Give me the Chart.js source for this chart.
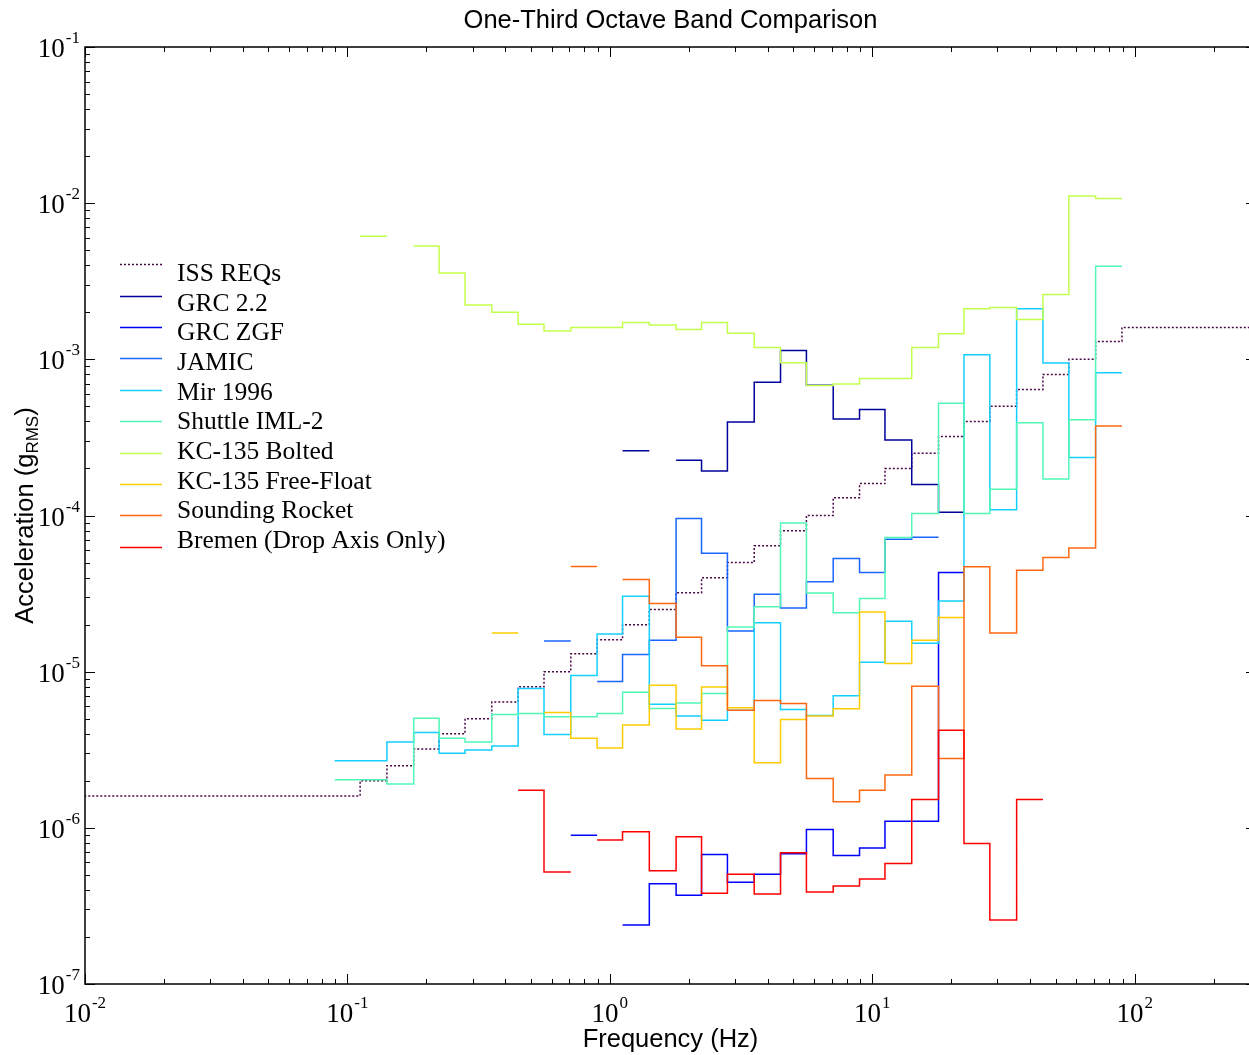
<!DOCTYPE html>
<html>
<head>
<meta charset="utf-8">
<title>One-Third Octave Band Comparison</title>
<script src="https://cdn.jsdelivr.net/npm/chart.js@4.4.1/dist/chart.umd.min.js"></script>
<style>
  html, body { margin: 0; padding: 0; background: #fff; overflow: hidden; }
  #wrap { width: 1249px; height: 1055px; overflow: hidden; }
  canvas { display: block; }
</style>
</head>
<body>
<div id="wrap"><canvas id="octave" width="1262" height="1055"></canvas></div>
<script>
// one-third octave band centres (Hz)
const bandCenters = [
    0.01, 0.0125, 0.016, 0.02, 0.025, 0.0315, 0.04, 0.05, 0.063, 0.08,
    0.1, 0.125, 0.16, 0.2, 0.25, 0.315, 0.4, 0.5, 0.63, 0.8,
    1, 1.25, 1.6, 2, 2.5, 3.15, 4, 5, 6.3, 8,
    10, 12.5, 16, 20, 25, 31.5, 40, 50, 63, 80,
    100, 125, 160, 200, 250, 315
];
const N = null;

// g RMS per band, same order as bandCenters (null = no data)
const issReqs = [
    1.6e-6, 1.6e-6, 1.6e-6, 1.6e-6, 1.6e-6, 1.6e-6, 1.6e-6, 1.6e-6, 1.6e-6, 1.6e-6,
    1.6e-6, 2.0e-6, 2.5e-6, 3.2e-6, 4.0e-6, 5.0e-6, 6.4e-6, 8.0e-6, 1.0e-5, 1.3e-5,
    1.6e-5, 2.0e-5, 2.5e-5, 3.2e-5, 4.0e-5, 5.0e-5, 6.4e-5, 8.0e-5, 1.0e-4, 1.3e-4,
    1.6e-4, 2.0e-4, 2.5e-4, 3.2e-4, 4.0e-4, 5.0e-4, 6.4e-4, 8.0e-4, 1.0e-3, 1.3e-3,
    1.6e-3, 1.6e-3, 1.6e-3, 1.6e-3, 1.6e-3, 1.6e-3
];
const grc22 = [
    N, N, N, N, N, N, N, N, N, N,
    N, N, N, N, N, N, N, N, N, N,
    N, 2.60e-4, N, 2.26e-4, 1.93e-4, 3.97e-4, 7.12e-4, 1.14e-3, 6.82e-4, 4.15e-4,
    4.77e-4, 3.04e-4, 1.58e-4, 1.05e-4, N, N, N, N, N, N,
    N, N, N, N, N, N
];
const grcZgf = [
    N, N, N, N, N, N, N, N, N, N,
    N, N, N, N, N, N, N, N, N, 8.95e-7,
    N, 2.39e-7, 4.38e-7, 3.70e-7, 6.76e-7, 4.48e-7, 5.04e-7, 6.82e-7, 9.77e-7, 6.66e-7,
    7.42e-7, 1.10e-6, 1.10e-6, 4.31e-5, N, N, N, N, N, N,
    N, N, N, N, N, N
];
const jamic = [
    N, N, N, N, N, N, N, N, N, N,
    N, N, N, N, N, N, N, N, 1.57e-5, N,
    8.66e-6, 1.29e-5, 1.59e-5, 9.56e-5, 5.73e-5, 1.82e-5, 3.13e-5, 2.56e-5, 3.76e-5, 5.30e-5,
    4.31e-5, 7.05e-5, 7.26e-5, N, N, N, N, N, N, N,
    N, N, N, N, N, N
];
const mir1996 = [
    N, N, N, N, N, N, N, N, N, N,
    2.69e-6, 2.69e-6, 3.55e-6, 4.08e-6, 3.00e-6, 3.15e-6, 3.34e-6, 7.81e-6, 3.96e-6, 9.46e-6,
    1.74e-5, 3.04e-5, 6.19e-6, 5.21e-6, 4.89e-6, 5.67e-6, 2.06e-5, 5.73e-6, 5.24e-6, 7.00e-6,
    1.15e-5, 2.10e-5, 1.52e-5, 2.83e-5, 1.07e-3, 1.09e-4, 2.11e-3, 9.47e-4, 2.35e-4, 8.22e-4,
    N, N, N, N, N, N
];
const shuttleIml2 = [
    N, N, N, N, N, N, N, N, N, N,
    2.03e-6, 2.03e-6, 1.91e-6, 5.04e-6, 3.74e-6, 3.55e-6, 5.32e-6, 5.40e-6, 5.14e-6, 5.14e-6,
    5.40e-6, 7.39e-6, 5.81e-6, 6.31e-6, 7.25e-6, 1.93e-5, 2.60e-5, 8.96e-5, 3.19e-5, 2.38e-5,
    2.94e-5, 7.23e-5, 1.03e-4, 5.23e-4, 1.03e-4, 1.47e-4, 3.93e-4, 1.71e-4, 4.11e-4, 3.95e-3,
    N, N, N, N, N, N
];
const kcBolted = [
    N, N, N, N, N, N, N, N, N, N,
    N, 6.13e-3, N, 5.31e-3, 3.57e-3, 2.23e-3, 2.00e-3, 1.68e-3, 1.52e-3, 1.60e-3,
    1.60e-3, 1.72e-3, 1.66e-3, 1.55e-3, 1.72e-3, 1.47e-3, 1.19e-3, 9.50e-4, 6.80e-4, 6.95e-4,
    7.54e-4, 7.54e-4, 1.19e-3, 1.46e-3, 2.11e-3, 2.15e-3, 1.80e-3, 2.60e-3, 1.11e-2, 1.07e-2,
    N, N, N, N, N, N
];
const kcFreeFloat = [
    N, N, N, N, N, N, N, N, N, N,
    N, N, N, N, N, N, 1.77e-5, N, 5.48e-6, 3.74e-6,
    3.25e-6, 4.55e-6, 8.20e-6, 4.29e-6, 7.99e-6, 5.87e-6, 2.61e-6, 4.94e-6, 5.20e-6, 5.78e-6,
    2.41e-5, 1.13e-5, 1.59e-5, 2.22e-5, N, N, N, N, N, N,
    N, N, N, N, N, N
];
const soundingRocket = [
    N, N, N, N, N, N, N, N, N, N,
    N, N, N, N, N, N, N, N, N, 4.71e-5,
    N, 3.89e-5, 2.73e-5, 1.66e-5, 1.09e-5, 5.67e-6, 6.54e-6, 6.26e-6, 2.07e-6, 1.47e-6,
    1.74e-6, 2.18e-6, 8.08e-6, 2.78e-6, 4.69e-5, 1.77e-5, 4.46e-5, 5.38e-5, 6.20e-5, 3.74e-4,
    N, N, N, N, N, N
];
const bremen = [
    N, N, N, N, N, N, N, N, N, N,
    N, N, N, N, N, N, N, 1.74e-6, 5.21e-7, N,
    8.35e-7, 9.43e-7, 5.31e-7, 8.76e-7, 3.81e-7, 5.04e-7, 3.77e-7, 6.92e-7, 3.88e-7, 4.24e-7,
    4.70e-7, 5.92e-7, 1.52e-6, 4.22e-6, 7.95e-7, 2.57e-7, 1.52e-6, N, N, N,
    N, N, N, N, N, N
];

const seriesNames = ['ISS REQs', 'GRC 2.2', 'GRC ZGF', 'JAMIC', 'Mir 1996', 'Shuttle IML-2',
    'KC-135 Bolted', 'KC-135 Free-Float', 'Sounding Rocket', 'Bremen (Drop Axis Only)'];
const seriesValues = [issReqs, grc22, grcZgf, jamic, mir1996, shuttleIml2,
    kcBolted, kcFreeFloat, soundingRocket, bremen];
const seriesColors = ['#4a0a4a', '#00009a', '#0000ff', '#1866ff', '#12d0ff', '#52f7b6',
    '#c2ff4c', '#ffcc00', '#ff6812', '#ff0000'];

// tick labels are 10^exp
const xTickExps = [-2, -1, 0, 1, 2];
const yTickExps = [-7, -6, -5, -4, -3, -2, -1];

// band edges: geometric mean between neighbouring centres
const bandLo = [], bandHi = [];
bandCenters.forEach((c, i) => {
    const prev = i > 0 ? Math.sqrt(bandCenters[i - 1] * c) : c / Math.sqrt(bandCenters[1] / c);
    const next = i < bandCenters.length - 1 ? Math.sqrt(c * bandCenters[i + 1])
        : c * Math.sqrt(c / bandCenters[i - 1]);
    bandLo.push(prev);
    bandHi.push(next);
});

// each band value becomes a flat step from its lower to its upper edge
function stepPoints(values) {
    const pts = [];
    values.forEach((v, i) => {
        if (v === null) {
            pts.push({ x: bandCenters[i], y: null });
            return;
        }
        pts.push({ x: bandLo[i], y: v }, { x: bandHi[i], y: v });
    });
    return pts;
}

const SERIF = '"Liberation Serif", "Times New Roman", serif';
const SANS = '"Liberation Sans", Arial, sans-serif';

function drawPower(ctx, exp, left, baseMain, baseSup) {
    ctx.font = '27px ' + SERIF;
    ctx.fillText('10', left, baseMain);
    const w = ctx.measureText('10').width;
    ctx.font = '17px ' + SERIF;
    ctx.fillText(String(exp), left + w + 1, baseSup);
}
function powerWidth(ctx, exp) {
    ctx.font = '27px ' + SERIF;
    const w1 = ctx.measureText('10').width;
    ctx.font = '17px ' + SERIF;
    return w1 + 1 + ctx.measureText(String(exp)).width;
}

function logTicks(lo, hi) {
    const out = [];
    for (let d = Math.floor(Math.log10(lo)); d <= Math.ceil(Math.log10(hi)); d++) {
        for (let m = 1; m <= 9; m++) {
            const v = m * Math.pow(10, d);
            if (v >= lo * 0.999 && v <= hi * 1.001) out.push({ v: v, major: m === 1 });
        }
    }
    return out;
}

const framePlugin = {
    id: 'frame',
    afterDraw(chart) {
        const ctx = chart.ctx;
        const a = chart.chartArea;
        const xs = chart.scales.x;
        const ys = chart.scales.y;
        ctx.save();

        // axes box
        ctx.strokeStyle = '#000';
        ctx.lineWidth = 1.5;
        ctx.setLineDash([]);
        ctx.strokeRect(a.left, a.top, a.right - a.left, a.bottom - a.top);

        // ticks on all four sides, pointing inward
        ctx.lineWidth = 1;
        ctx.beginPath();
        logTicks(xs.min, xs.max).forEach(t => {
            const px = Math.round(xs.getPixelForValue(t.v)) + 0.5;
            const len = t.major ? 10 : 5;
            ctx.moveTo(px, a.bottom); ctx.lineTo(px, a.bottom - len);
            ctx.moveTo(px, a.top); ctx.lineTo(px, a.top + len);
        });
        logTicks(ys.min, ys.max).forEach(t => {
            const py = Math.round(ys.getPixelForValue(t.v)) + 0.5;
            const len = t.major ? 10 : 5;
            ctx.moveTo(a.left, py); ctx.lineTo(a.left + len, py);
            ctx.moveTo(a.right, py); ctx.lineTo(a.right - len, py);
        });
        ctx.stroke();

        // tick labels
        ctx.fillStyle = '#000';
        ctx.textAlign = 'left';
        ctx.textBaseline = 'alphabetic';
        xTickExps.forEach(e => {
            const px = xs.getPixelForValue(Math.pow(10, e));
            const w = powerWidth(ctx, e);
            drawPower(ctx, e, px - w / 2, a.bottom + 38, a.bottom + 24);
        });
        yTickExps.forEach(e => {
            const py = ys.getPixelForValue(Math.pow(10, e));
            const w = powerWidth(ctx, e);
            drawPower(ctx, e, a.left - 5 - w, py + 10, py - 4);
        });

        // title and axis titles
        const cx = (a.left + a.right) / 2;
        ctx.font = '25.5px ' + SANS;
        ctx.textAlign = 'center';
        ctx.fillText('One-Third Octave Band Comparison', cx, 28);
        ctx.fillText('Frequency (Hz)', cx, 1047);

        ctx.save();
        ctx.translate(33, (a.top + a.bottom) / 2);
        ctx.rotate(-Math.PI / 2);
        ctx.textAlign = 'left';
        const p1 = 'Acceleration (g', sub = 'RMS', p2 = ')';
        ctx.font = '25.5px ' + SANS;
        const w1 = ctx.measureText(p1).width, w3 = ctx.measureText(p2).width;
        ctx.font = '17px ' + SANS;
        const w2 = ctx.measureText(sub).width;
        let sx = -(w1 + w2 + w3) / 2;
        ctx.font = '25.5px ' + SANS;
        ctx.fillText(p1, sx, 0);
        ctx.font = '17px ' + SANS;
        ctx.fillText(sub, sx + w1, 5);
        ctx.font = '25.5px ' + SANS;
        ctx.fillText(p2, sx + w1 + w2, 0);
        ctx.restore();

        // legend
        ctx.textAlign = 'left';
        ctx.font = '25.5px ' + SERIF;
        seriesNames.forEach((name, i) => {
            const ly = Math.round(264.3 + 31.38 * i) + 0.5;
            ctx.strokeStyle = seriesColors[i];
            ctx.lineWidth = 1.5;
            ctx.setLineDash(i === 0 ? [2, 2] : []);
            ctx.beginPath();
            ctx.moveTo(120, ly);
            ctx.lineTo(162, ly);
            ctx.stroke();
            ctx.fillStyle = '#000';
            ctx.fillText(name, 177, 272.7 + 29.64 * i + 8.4);
        });
        ctx.restore();
    }
};

const canvas = document.getElementById('octave');
const chart = new Chart(canvas.getContext('2d'), {
    type: 'line',
    data: {
        datasets: seriesValues.map((vals, i) => ({
            label: seriesNames[i],
            data: stepPoints(vals),
            borderColor: seriesColors[i],
            borderWidth: 1.5,
            borderDash: i === 0 ? [2, 2] : [],
            pointRadius: 0,
            fill: false,
            spanGaps: false,
            tension: 0,
            order: seriesValues.length - i
        }))
    },
    options: {
        responsive: false,
        animation: false,
        devicePixelRatio: 1,
        layout: { padding: { left: 85, right: 6, top: 47, bottom: 71 } },
        plugins: {
            legend: { display: false },
            tooltip: { enabled: false },
            title: { display: false }
        },
        scales: {
            x: { type: 'logarithmic', min: 0.01, max: 290, display: false },
            y: { type: 'logarithmic', min: 1e-7, max: 1e-1, display: false }
        }
    },
    plugins: [framePlugin]
});
</script>
</body>
</html>
